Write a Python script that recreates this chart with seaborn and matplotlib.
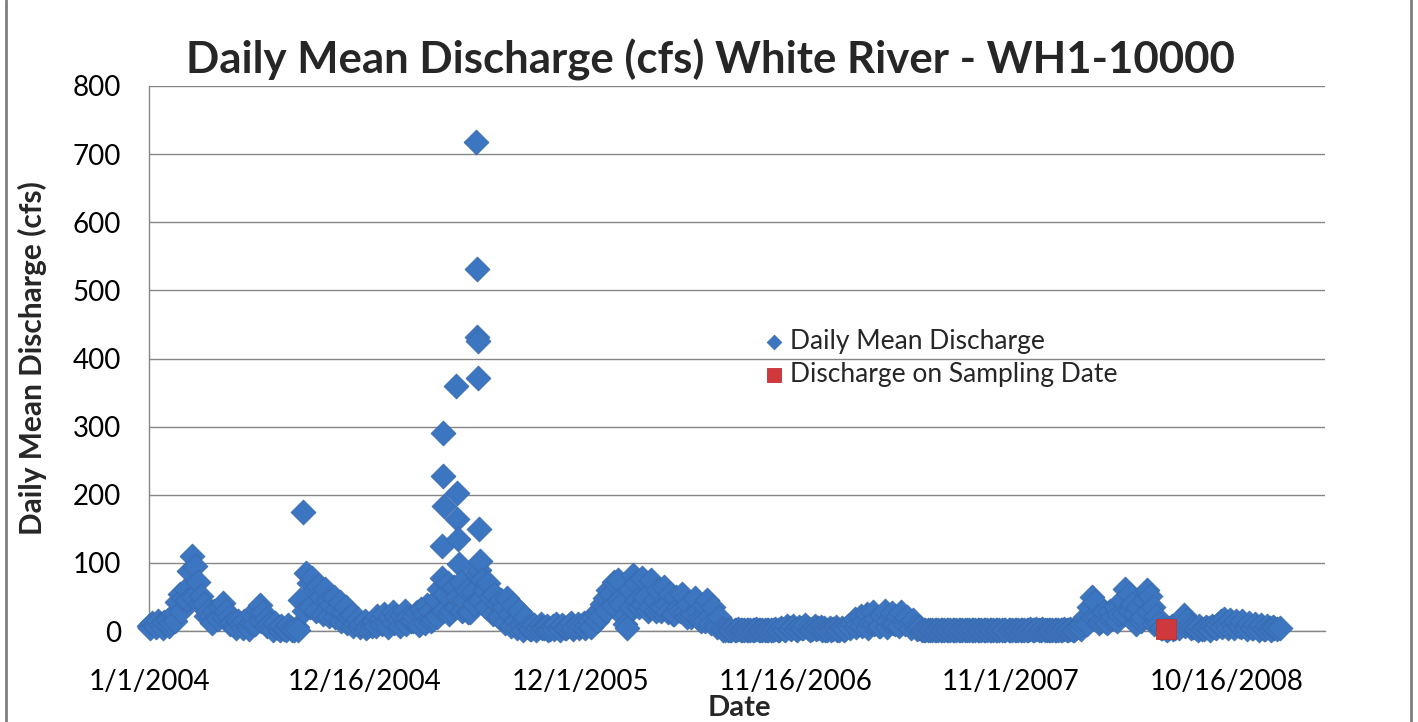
import numpy as np
import pandas as pd
import matplotlib.pyplot as plt
import seaborn as sns
from matplotlib.lines import Line2D

# daily mean discharge (cfs), every 5 days from Jan 1 of each year
q2004 = [8, 12, 9, 14, 10, 13, 16, 12, 25, 42,
         55, 48, 62, 88, 110, 96, 72, 52, 40, 30,
         22, 30, 20, 35, 41, 30, 20, 12, 8, 15,
         10, 14, 7, 12, 20, 32, 38, 28, 18, 10,
         6, 12, 4, 8, 3, 9, 5, 2, 6, 45,
         175, 85, 70, 78, 60, 66, 50, 62, 45, 38,
         50, 32, 42, 28, 36, 20, 24, 12, 18, 10,
         15, 8, 12, 10]
q2005 = [15, 22, 18, 25, 12, 20, 28, 22, 16, 24,
         30, 20, 14, 22, 28, 33, 25, 38, 30, 18,
         45, 62, 78, 55, 70, 30, 65, 50, 72, 45,
         60, 28, 58, 85, 90, 75, 60, 70, 50, 55,
         40, 45, 35, 48, 25, 38, 15, 30, 8, 20,
         6, 3, 9, 5, 10, 4, 8, 3, 7, 11,
         5, 9, 4, 8, 12, 6, 10, 7, 12, 9,
         14, 20, 26]
q2006 = [30, 40, 48, 60, 55, 72, 75, 40, 20, 4,
         60, 82, 70, 35, 78, 50, 30, 75, 45, 60,
         30, 65, 40, 55, 25, 50, 35, 55, 28, 40,
         20, 48, 30, 15, 38, 45, 22, 35, 10, 20,
         5, 2, 1, 2, 1, 3, 1, 2, 1, 2,
         1, 3, 1, 2, 1, 2, 1, 3, 2, 5,
         3, 7, 4, 8, 3, 6, 4, 9, 5, 3,
         7, 4, 6]
q2007 = [4, 2, 5, 3, 6, 2, 4, 3,
         8, 12, 18, 10, 22, 15, 25, 12, 28, 18, 8, 24,
         30, 15, 26, 10, 22, 28, 14, 20, 10, 16, 8, 5,
         1, 2, 1, 1, 2, 1, 2, 1, 1, 2,
         1, 1, 2, 1, 2, 1, 1, 2, 1, 1,
         2, 1, 1, 2, 1, 2, 1, 1, 2, 1,
         1, 2, 1, 2, 2, 3, 2, 3, 2, 3,
         2]
q2008 = [1, 2, 1, 2, 1, 3, 2, 3, 2, 4, 6, 10,
         20, 35, 50, 42, 22, 15, 28, 12,
         30, 20, 35, 25,
         45, 62, 55, 40,
         25, 35, 15,
         45, 60, 52,
         35, 22, 12,
         5, 3, 4,
         8, 5, 12, 18, 24, 16, 9,
         6, 4, 7, 3, 6, 5, 8, 6, 10,
         14, 18, 12, 16, 10, 15, 8, 14, 6,
         12, 5, 10, 4, 9, 3, 8, 4, 6]
q2009 = [5, 3, 4]

# low days between the readings above, every 10 days from Jan 3 of each year
low2004 = [5, 6, 4, 8, 15, 30, 45, 50, 40, 22,
           12, 18, 20, 10, 4, 5, 3, 10, 15, 8,
           2, 1, 2, 1, 2, 30, 35, 30, 25, 22,
           20, 15, 12, 8, 6, 5, 8]
low2005 = [8, 10, 6, 12, 8, 10, 14, 9, 12, 15,
           20, 30, 25, 35, 30, 28, 40, 45, 35, 25,
           20, 12, 8, 4, 2, 3, 2, 4, 2, 3,
           2, 4, 3, 5, 4, 6, 15]
low2006 = [22, 30, 38, 45, 10, 35, 45, 40, 35, 30,
           35, 28, 25, 30, 20, 25, 18, 15, 12, 6,
           2, 1, 1, 1, 1, 1, 1, 1, 1, 1,
           2, 3, 2, 4, 2, 3, 2]
low2007 = [2, 1, 2, 1,
           4, 6, 8, 5, 10, 8, 6, 12, 8, 10, 5, 3,
           1, 1, 1, 1, 1, 1, 1, 1, 1, 1,
           1, 1, 1, 1, 1, 1, 1, 1, 1, 1, 1]
low2008 = [1, 1, 1, 1, 2, 3,
           10, 20, 12, 15, 18, 15, 25, 30, 10, 20,
           30, 10, 4, 2, 3, 5, 8, 4, 2, 3,
           2, 4, 6, 5, 4, 6, 3, 4, 2, 3,
           2]

# flood days of spring 2005 (the isolated high points)
flood_dates = ['2005-04-21', '2005-04-22', '2005-04-23', '2005-04-24',
               '2005-05-14', '2005-05-15', '2005-05-16', '2005-05-17', '2005-05-18',
               '2005-06-15', '2005-06-16', '2005-06-17', '2005-06-18', '2005-06-19',
               '2005-06-20', '2005-06-21']
flood_values = [125, 290, 228, 183,
                360, 203, 165, 135, 98,
                718, 531, 432, 425, 372, 150, 103]

# sampling date
sample_dates = ['2008-07-10']
sample_values = [3]

tick_dates = ['2004-01-01', '2004-12-16', '2005-12-01', '2006-11-16', '2007-11-01', '2008-10-16']
tick_labels = ['1/1/2004', '12/16/2004', '12/1/2005', '11/16/2006', '11/1/2007', '10/16/2008']

# build the daily table
parts = []
for year, vals in [(2004, q2004), (2005, q2005), (2006, q2006),
                   (2007, q2007), (2008, q2008), (2009, q2009)]:
    dates = pd.date_range(start=f'{year}-01-01', periods=len(vals), freq='5D')
    parts.append(pd.DataFrame({'Date': dates, 'cfs': vals}))
for year, vals in [(2004, low2004), (2005, low2005), (2006, low2006),
                   (2007, low2007), (2008, low2008)]:
    dates = pd.date_range(start=f'{year}-01-03', periods=len(vals), freq='10D')
    parts.append(pd.DataFrame({'Date': dates, 'cfs': vals}))
parts.append(pd.DataFrame({'Date': pd.to_datetime(flood_dates), 'cfs': flood_values}))
df = pd.concat(parts, ignore_index=True).sort_values('Date')

df_sample = pd.DataFrame({'Date': pd.to_datetime(sample_dates), 'cfs': sample_values})

sns.set_style('white')
plt.rcParams['font.family'] = ['Lato', 'DejaVu Sans']

fig = plt.figure(figsize=(14.18, 7.22), dpi=100)
ax = fig.add_axes([0.1051, 0.1260, 0.8293, 0.7549])

sns.scatterplot(data=df, x='Date', y='cfs', marker='D', s=160, color='#3D76C0',
                edgecolor='#3A6CB0', linewidth=0.6, label='Daily Mean Discharge',
                clip_on=False, zorder=3, ax=ax)
sns.scatterplot(data=df_sample, x='Date', y='cfs', marker='s', s=200, color='#D0393B',
                edgecolor='#C03034', linewidth=0.6, label='Discharge on Sampling Date',
                clip_on=False, zorder=4, ax=ax)

ax.set_xlim(pd.Timestamp('2004-01-01'), pd.Timestamp('2009-03-25'))
ax.set_ylim(0, 800)
ax.set_yticks(range(0, 801, 100))
ax.set_xticks(pd.to_datetime(tick_dates))
ax.set_xticklabels(tick_labels)
ax.tick_params(axis='y', length=0, pad=20, labelsize=20, labelcolor='black')
ax.tick_params(axis='x', length=0, pad=27, labelsize=20, labelcolor='black')
ax.set_xlabel('')
ax.set_ylabel('')

ax.set_axisbelow(True)
ax.yaxis.grid(True, color='#868686', linewidth=1)
ax.xaxis.grid(False)
for side in ['top', 'right']:
    ax.spines[side].set_visible(False)
for side in ['left', 'bottom']:
    ax.spines[side].set_color('#868686')
    ax.spines[side].set_linewidth(1)

leg = ax.legend(loc='upper left', bbox_to_anchor=(766 / 1418, 1 - 329 / 722),
                bbox_transform=fig.transFigure, frameon=False, fontsize=19,
                handlelength=0.6, handletextpad=0.3,
                labelspacing=0.3, borderpad=0, borderaxespad=0)
leg.legend_handles[0].set_sizes([55])
leg.legend_handles[1].set_sizes([115])

fig.text(0.5007, 1 - 60 / 722, 'Daily Mean Discharge (cfs) White River - WH1-10000',
         ha='center', va='center', fontsize=31.5, fontweight='bold')
fig.text(32 / 1418, 1 - 358 / 722, 'Daily Mean Discharge (cfs)', rotation=90,
         ha='center', va='center', fontsize=21.5, fontweight='bold')
fig.text(739 / 1418, 1 - 708 / 722, 'Date', ha='center', va='center',
         fontsize=21, fontweight='bold')

# chart frame
fig.add_artist(Line2D([6 / 1418, 6 / 1418], [0, 1], color='#7F7F7F', linewidth=2))
fig.add_artist(Line2D([1411 / 1418, 1411 / 1418], [0, 1], color='#7F7F7F', linewidth=2))

fig.savefig('out.png', dpi=100)
